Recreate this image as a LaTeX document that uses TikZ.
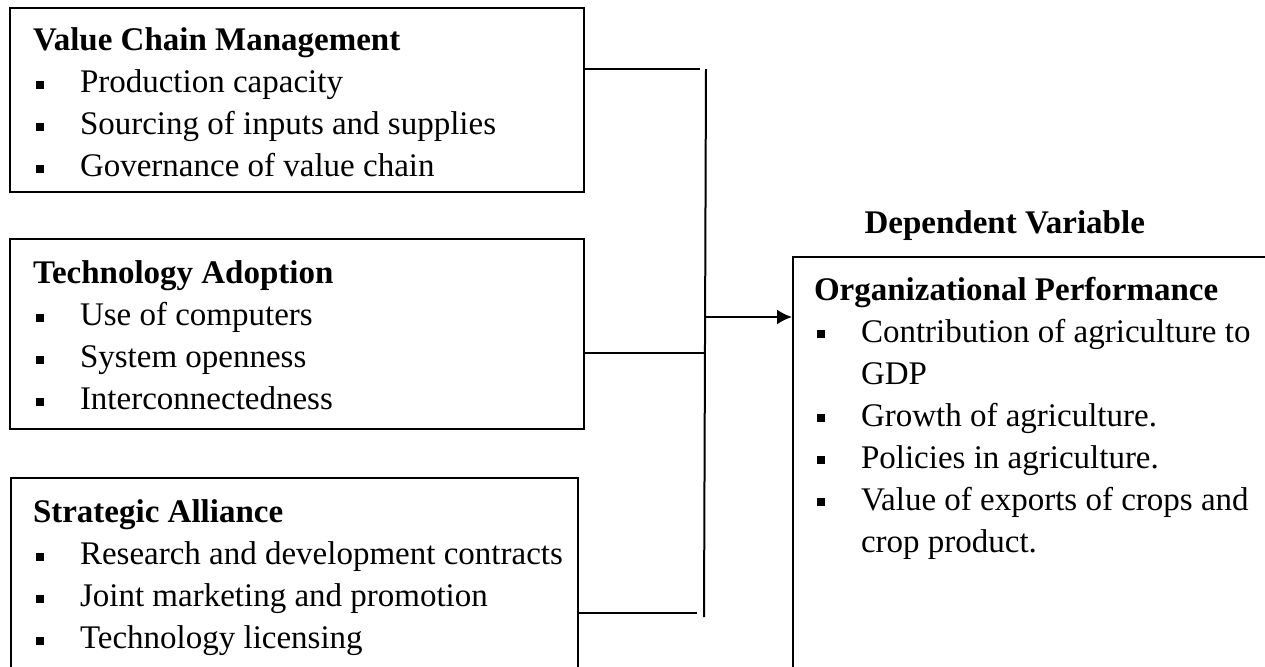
\documentclass[tikz,border=0pt]{standalone}
\usepackage{fontspec}
\setmainfont{Liberation Serif}
\usetikzlibrary{positioning,arrows.meta}

\newcommand{\bitem}[1]{\makebox[23.5pt][l]{\hspace{1.5pt}\raisebox{2pt}{\rule{3.9pt}{3.9pt}}}#1}
\newcommand{\bindent}{\hspace*{23.5pt}}

\begin{document}
\begin{tikzpicture}[x=0.5pt, y=-0.5pt, >={Latex[length=7.5pt,width=7.5pt]}, line width=1pt,
    panel/.style={draw, line width=1.1pt, anchor=north west, inner sep=0pt},
    paneltext/.style={anchor=north west, align=left, inner sep=0pt, font=\fontsize{16.5}{21}\selectfont}]
    \useasboundingbox (0,0) rectangle (1265,666);
    \clip (0,0) rectangle (1265,666);

    % independent variables
    \node[panel, minimum width=287pt, minimum height=92pt] (vcm) at (9,7) {};
    \node[paneltext] (vcmtext) at ([xshift=11.5pt,yshift=-10pt]vcm.north west)
        {\textbf{Value Chain Management}\\ \bitem{Production capacity}\\
         \bitem{Sourcing of inputs and supplies}\\ \bitem{Governance of value chain}};

    \node[panel, minimum width=287pt, minimum height=95pt] (tech) at (9,238) {};
    \node[paneltext] (techtext) at ([xshift=11.5pt,yshift=-11pt]tech.north west)
        {\textbf{Technology Adoption}\\ \bitem{Use of computers}\\
         \bitem{System openness}\\ \bitem{Interconnectedness}};

    \node[panel, minimum width=283.5pt, minimum height=115pt] (ally) at (10,477) {};
    \node[paneltext] (allytext) at ([xshift=11pt,yshift=-11pt]ally.north west)
        {\textbf{Strategic Alliance}\\ \bitem{Research and development contracts}\\
         \bitem{Joint marketing and promotion}\\ \bitem{Technology licensing}};

    % dependent variable
    \node[font=\fontsize{16.5}{21}\selectfont\bfseries, anchor=base west] (depvar) at (857,233) {Dependent Variable};
    \node[panel, minimum width=256pt, minimum height=225pt] (perf) at (792,256) {};
    \node[paneltext] (perftext) at ([xshift=10.5pt,yshift=-10pt]perf.north west)
        {\textbf{Organizational Performance}\\ \bitem{Contribution of agriculture to}\\
         \bindent GDP\\ \bitem{Growth of agriculture.}\\ \bitem{Policies in agriculture.}\\
         \bitem{Value of exports of crops and}\\ \bindent crop product.};

    % connectors
    \coordinate (vcmend) at (700,69);
    \coordinate (techend) at (705,353);
    \coordinate (allyend) at (697,613);
    \coordinate (bustop) at (706,69);
    \coordinate (busbot) at (704,617);
    \coordinate (busmid) at (705,317);
    \draw (vcmend -| vcm.east) -- (vcmend);
    \draw (techend -| tech.east) -- (techend);
    \draw (allyend -| ally.east) -- (allyend);
    \draw (bustop) -- (busbot);
    \draw[->] (busmid) -- (busmid -| perf.west);
\end{tikzpicture}
\end{document}
